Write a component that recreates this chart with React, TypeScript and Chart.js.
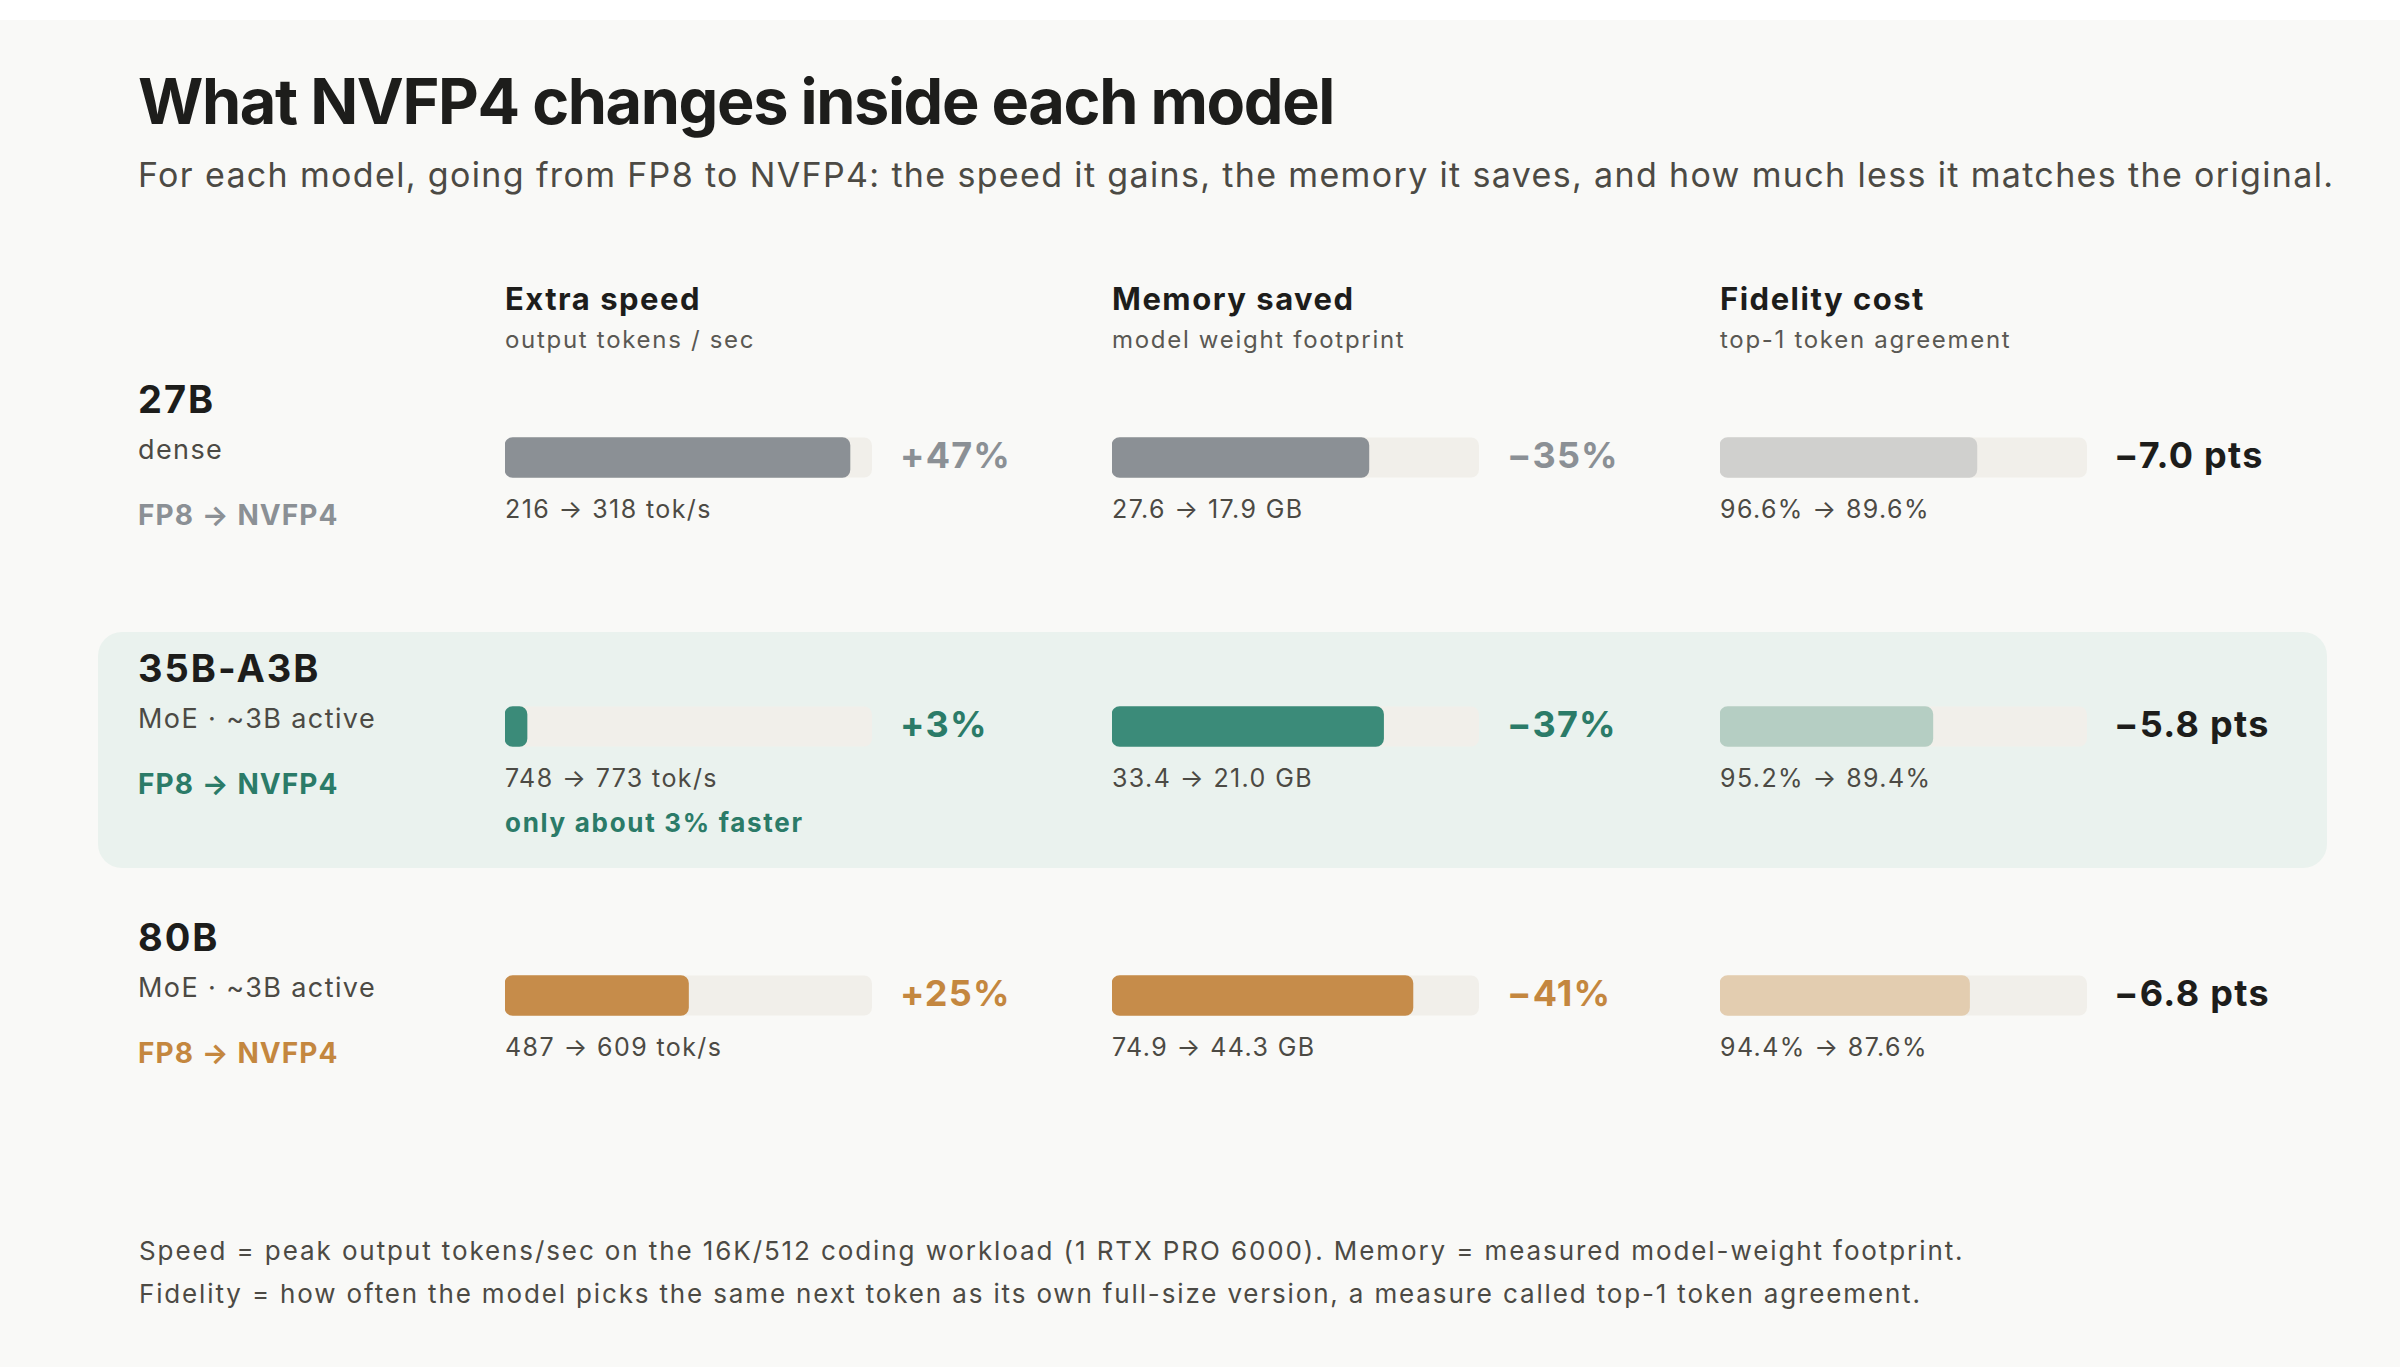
import React, { useEffect, useRef } from "react";
import { Chart, registerables } from "chart.js";

Chart.register(...registerables);

// ---- data -------------------------------------------------------------
const models = ["27B", "35B-A3B", "80B"];
const modelKinds = ["dense", "MoE · ~3B active", "MoE · ~3B active"];

const speedFp8 = [216, 748, 487];
const speedNvfp4 = [318, 773, 609];
const speedGainPct = [47, 3, 25];

const memFp8 = [27.6, 33.4, 74.9];
const memNvfp4 = [17.9, 21.0, 44.3];
const memSavedPct = [35, 37, 41];

const fidFp8 = [96.6, 95.2, 94.4];
const fidNvfp4 = [89.6, 89.4, 87.6];
const fidCostPts = [7.0, 5.8, 6.8];

const SPEED_MAX = 50;
const MEM_MAX = 50;
const FID_MAX = 10;

// ---- styling ----------------------------------------------------------
const FONT = "Inter, 'Noto Sans', sans-serif";
const INK = "#1d1d1b";
const BODY = "#4c4a44";
const MUTED = "#5a5853";
const TRACK = "#f1efea";
const accent = ["#8b9095", "#3b8b79", "#c68c4a"];
const accentText = ["#8b9095", "#2b7b68", "#c4873f"];
const fidFill = ["#d0d0ce", "#b5cec3", "#e3cdb0"];

const ROW_PITCH = 269;
const BAR_H = 40;
const TRACK_W = 367;
const CHART_TOP = 323;
const colX = [505, 1112, 1720];

// draws the full-scale grey track behind each bar
const trackPlugin = {
  id: "track",
  beforeDatasetsDraw(chart: any) {
    const { ctx, scales } = chart;
    const x0 = scales.x.getPixelForValue(scales.x.min);
    const x1 = scales.x.getPixelForValue(scales.x.max);
    ctx.save();
    ctx.fillStyle = TRACK;
    chart.data.labels.forEach((_: string, i: number) => {
      const yc = scales.y.getPixelForValue(i);
      ctx.beginPath();
      ctx.roundRect(x0, yc - BAR_H / 2, x1 - x0, BAR_H, 8);
      ctx.fill();
    });
    ctx.restore();
  },
};

function MetricBars(props: { values: number[]; max: number; colors: string[]; left: number }) {
  const ref = useRef<HTMLCanvasElement>(null);
  useEffect(() => {
    const chart = new Chart(ref.current!, {
      type: "bar",
      data: {
        labels: models,
        datasets: [
          {
            data: props.values,
            backgroundColor: props.colors,
            borderRadius: 8,
            borderSkipped: false,
            barThickness: BAR_H,
          },
        ],
      },
      options: {
        indexAxis: "y",
        animation: false,
        responsive: false,
        events: [],
        layout: { padding: 0 },
        plugins: { legend: { display: false }, tooltip: { enabled: false } },
        scales: {
          x: { display: false, min: 0, max: props.max },
          y: { display: false },
        },
      },
      plugins: [trackPlugin],
    });
    return () => chart.destroy();
  }, []);
  return (
    <canvas
      ref={ref}
      width={TRACK_W}
      height={ROW_PITCH * 3}
      style={{ position: "absolute", left: props.left, top: CHART_TOP, width: TRACK_W, height: ROW_PITCH * 3 }}
    />
  );
}

const T = (p: any) => {
  const { x, y, size, weight = 400, fill = BODY, ls = 0, children } = p;
  return (
    <text x={x} y={y} fontSize={size} fontWeight={weight} fill={fill} style={{ letterSpacing: ls }} fontFamily={FONT}>
      {children}
    </text>
  );
};

export default function App() {
  useEffect(() => {
    document.body.style.margin = "0";
  }, []);

  const headers = [
    ["Extra speed", "output tokens / sec"],
    ["Memory saved", "model weight footprint"],
    ["Fidelity cost", "top-1 token agreement"],
  ];

  return (
    <div style={{ position: "absolute", left: 0, top: 0, width: 2400, height: 1367, background: "#ffffff", overflow: "hidden" }}>
      <svg width={2400} height={1367} style={{ position: "absolute", left: 0, top: 0 }}>
        <rect x={0} y={20} width={2400} height={1347} fill="#f9f9f7" />
        <rect x={98} y={632} width={2229} height={236} rx={24} fill="#eaf2ee" />

        <T x={138} y={124} size={63} weight={700} fill={INK} ls="-1.4px">
          What NVFP4 changes inside each model
        </T>
        <T x={138} y={187} size={34} fill={BODY} ls="1.35px">
          For each model, going from FP8 to NVFP4: the speed it gains, the memory it saves, and how much less it matches the original.
        </T>

        {headers.map((h, c) => (
          <g key={c}>
            <T x={colX[c]} y={310} size={31} weight={700} fill={INK} ls="1.5px">
              {h[0]}
            </T>
            <T x={colX[c]} y={348} size={24} fill={MUTED} ls="1.7px">
              {h[1]}
            </T>
          </g>
        ))}

        {models.map((m, i) => {
          const dy = i * ROW_PITCH;
          return (
            <g key={m}>
              <T x={138} y={413 + dy} size={38} weight={700} fill={INK} ls="2px">
                {m}
              </T>
              <T x={138} y={459 + dy} size={27} fill={BODY} ls="1.4px">
                {modelKinds[i]}
              </T>
              <T x={138} y={525 + dy} size={28} weight={700} fill={accentText[i]} ls="1.1px">
                FP8 → NVFP4
              </T>

              <T x={colX[0] + TRACK_W + 28} y={468 + dy} size={36} weight={700} fill={accentText[i]} ls="1.2px">
                {`+${speedGainPct[i]}%`}
              </T>
              <T x={colX[1] + TRACK_W + 28} y={468 + dy} size={36} weight={700} fill={accentText[i]} ls="1.2px">
                {`−${memSavedPct[i]}%`}
              </T>
              <T x={colX[2] + TRACK_W + 27} y={468 + dy} size={36} weight={700} fill={INK} ls="1.3px">
                {`−${fidCostPts[i].toFixed(1)} pts`}
              </T>

              <T x={colX[0]} y={518 + dy} size={25} fill={BODY} ls="1.4px">
                {`${speedFp8[i]} → ${speedNvfp4[i]} tok/s`}
              </T>
              <T x={colX[1]} y={518 + dy} size={25} fill={BODY} ls="1.4px">
                {`${memFp8[i].toFixed(1)} → ${memNvfp4[i].toFixed(1)} GB`}
              </T>
              <T x={colX[2]} y={518 + dy} size={25} fill={BODY} ls="1.4px">
                {`${fidFp8[i].toFixed(1)}% → ${fidNvfp4[i].toFixed(1)}%`}
              </T>
            </g>
          );
        })}

        <T x={colX[0]} y={832} size={26} weight={700} fill={accentText[1]} ls="1.7px">
          only about 3% faster
        </T>

        <T x={139} y={1260} size={26} fill={BODY} ls="1.9px">
          Speed = peak output tokens/sec on the 16K/512 coding workload (1 RTX PRO 6000). Memory = measured model-weight footprint.
        </T>
        <T x={139} y={1303} size={26} fill={BODY} ls="1.85px">
          Fidelity = how often the model picks the same next token as its own full-size version, a measure called top-1 token agreement.
        </T>
      </svg>

      <MetricBars values={speedGainPct} max={SPEED_MAX} colors={accent} left={colX[0]} />
      <MetricBars values={memSavedPct} max={MEM_MAX} colors={accent} left={colX[1]} />
      <MetricBars values={fidCostPts} max={FID_MAX} colors={fidFill} left={colX[2]} />
    </div>
  );
}
